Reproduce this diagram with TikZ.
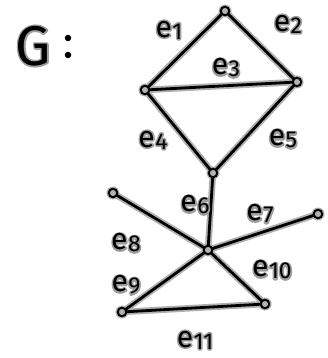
\documentclass[tikz,border=0pt]{standalone}
\usepackage{fontspec}
\setmainfont{Fira Sans}
\newcommand{\elabraw}[1]{e\kern0.5pt\raisebox{-2pt}{\fontsize{23}{23}\selectfont #1}}
\newcommand{\haloed}[1]{\leavevmode\rlap{\special{pdf:literal direct 2 Tr 3.2 w 0.62 G 0.62 g 1 j}#1\special{pdf:literal direct 0 Tr 0 G 0 g}}#1}
\newcommand{\elab}[1]{\haloed{\elabraw{#1}}}
\begin{document}
\begin{tikzpicture}[x=1pt,y=-1pt,
  halo/.style={draw=gray!62,line width=6.5pt,line cap=round},
  edge/.style={draw=black,line width=2.8pt,line cap=round},
  vtx/.style={circle,draw=black,fill=gray!60,line width=2pt,inner sep=0pt,minimum size=8.5pt},
  vhalo/.style={circle,fill=gray!62,inner sep=0pt,minimum size=13pt},
  lbl/.style={font=\fontsize{30}{30}\selectfont,inner sep=0pt}]
\useasboundingbox (0,0) rectangle (328,358);
\coordinate (T) at (225,11);
\coordinate (L) at (145,90);
\coordinate (R) at (297,82);
\coordinate (M) at (213,173);
\coordinate (C) at (208,250);
\coordinate (A) at (113,193);
\coordinate (B) at (318,214);
\coordinate (P) at (122,312);
\coordinate (Q) at (265,304);
\foreach \u/\v in {T/L,T/R,L/R,L/M,R/M,M/C,C/A,C/B,C/P,C/Q,P/Q}{
  \path[halo] (\u) -- (\v);
}
\foreach \n in {T,L,R,M,C,A,B,P,Q}{
  \node[vhalo] (h\n) at (\n) {};
}
\foreach \u/\v in {T/L,T/R,L/R,L/M,R/M,M/C,C/A,C/B,C/P,C/Q,P/Q}{
  \path[edge] (\u) -- (\v);
}
\foreach \n in {T,L,R,M,C,A,B,P,Q}{
  \node[vtx] (v\n) at (\n) {};
}
\node[font=\fontsize{56}{56}\selectfont,inner sep=0pt] (g) at (33,46) {\haloed{G}};
\node[circle,fill=black,inner sep=0pt,minimum size=6.5pt] (d1) at (68,38) {};
\node[circle,fill=black,inner sep=0pt,minimum size=6.5pt] (d2) at (68,55) {};
\node[lbl] (e1) at (169,30) {\elab{1}};
\node[lbl] (e2) at (288,24) {\elab{2}};
\node[lbl] (e3) at (226,68) {\elab{3}};
\node[lbl] (e4) at (153,140) {\elab{4}};
\node[lbl] (e5) at (283,139) {\elab{5}};
\node[lbl] (e6) at (195,205) {\elab{6}};
\node[lbl] (e7) at (260,214) {\elab{7}};
\node[lbl] (e8) at (126,243) {\elab{8}};
\node[lbl] (e9) at (126,285) {\elab{9}};
\node[lbl] (e10) at (272,270) {\elab{10}};
\node[lbl] (e11) at (195,340) {\elab{11}};
\end{tikzpicture}
\end{document}
